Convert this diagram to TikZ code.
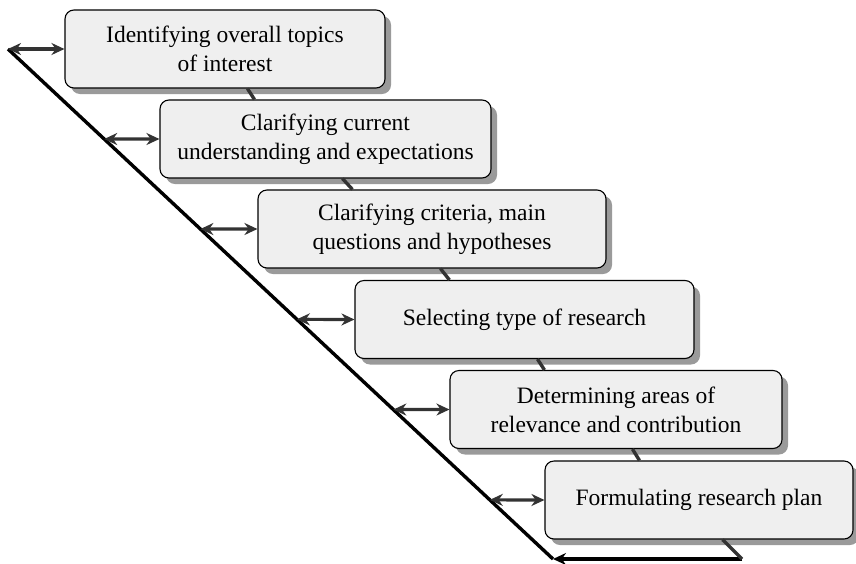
\documentclass[tikz,border=0pt]{standalone}
\usepackage{fontspec}
\setmainfont{Liberation Serif}
\usetikzlibrary{positioning,arrows.meta,calc,shadows}
\definecolor{stepfill}{HTML}{EFEFEF}
\definecolor{stepshade}{HTML}{9A9A9A}
\definecolor{linkgray}{HTML}{333333}
\tikzset{
  stepb/.style={draw=black, line width=1.1pt, fill=stepfill, rounded corners=9pt,
    align=center, minimum height=78pt, inner sep=4pt,
    font=\fontsize{23.5}{29}\selectfont,
    drop shadow={shadow xshift=6pt, shadow yshift=-6pt, fill=stepshade, opacity=1}},
  rail/.style={line width=3.4pt, draw=black},
  link/.style={line width=3.4pt, draw=linkgray},
  dbl/.style={{Stealth[length=13pt,width=12pt]}-{Stealth[length=13pt,width=12pt]},
    line width=3.2pt, draw=linkgray},
}
\begin{document}
\begin{tikzpicture}[x=1pt, y=-1pt]
    \useasboundingbox (0,0) rectangle (856,563);
    \node[stepb, minimum width=320pt] (s1) at (225,49) {Identifying overall topics\\of interest};
    \node[stepb, minimum width=331pt] (s2) at (325.5,139) {Clarifying current\\understanding and expectations};
    \node[stepb, minimum width=348pt] (s3) at (432,229) {Clarifying criteria, main\\questions and hypotheses};
    \node[stepb, minimum width=339pt] (s4) at (524.5,319.5) {Selecting type of research};
    \node[stepb, minimum width=332pt] (s5) at (616,409.5) {Determining areas of\\relevance and contribution};
    \node[stepb, minimum width=308pt] (s6) at (699,500) {Formulating research plan};
    % links between steps
    \foreach \i/\j in {1/2,2/3,3/4,4/5,5/6}
      \draw[link] ($(s\i.south west)+(183,0)$) -- ($(s\j.north west)+(95,0)$);
    % the staircase rail
    \coordinate (top) at (8,49);
    \coordinate (foot) at (553,559);
    \coordinate (heel) at (742,559);
    \draw[rail] (top) -- (foot);
    \draw[rail, -{Stealth[length=13pt,width=12pt]}] (heel) -- (foot);
    \draw[link] ($(s6.south west)+(178,0)$) -- (heel);
    \foreach \i/\f in {1/0,2/0.1765,3/0.353,4/0.530,5/0.707,6/0.884}
      \draw[dbl] ($(top)!\f!(foot)$) -- (s\i.west);
  \end{tikzpicture}
\end{document}
